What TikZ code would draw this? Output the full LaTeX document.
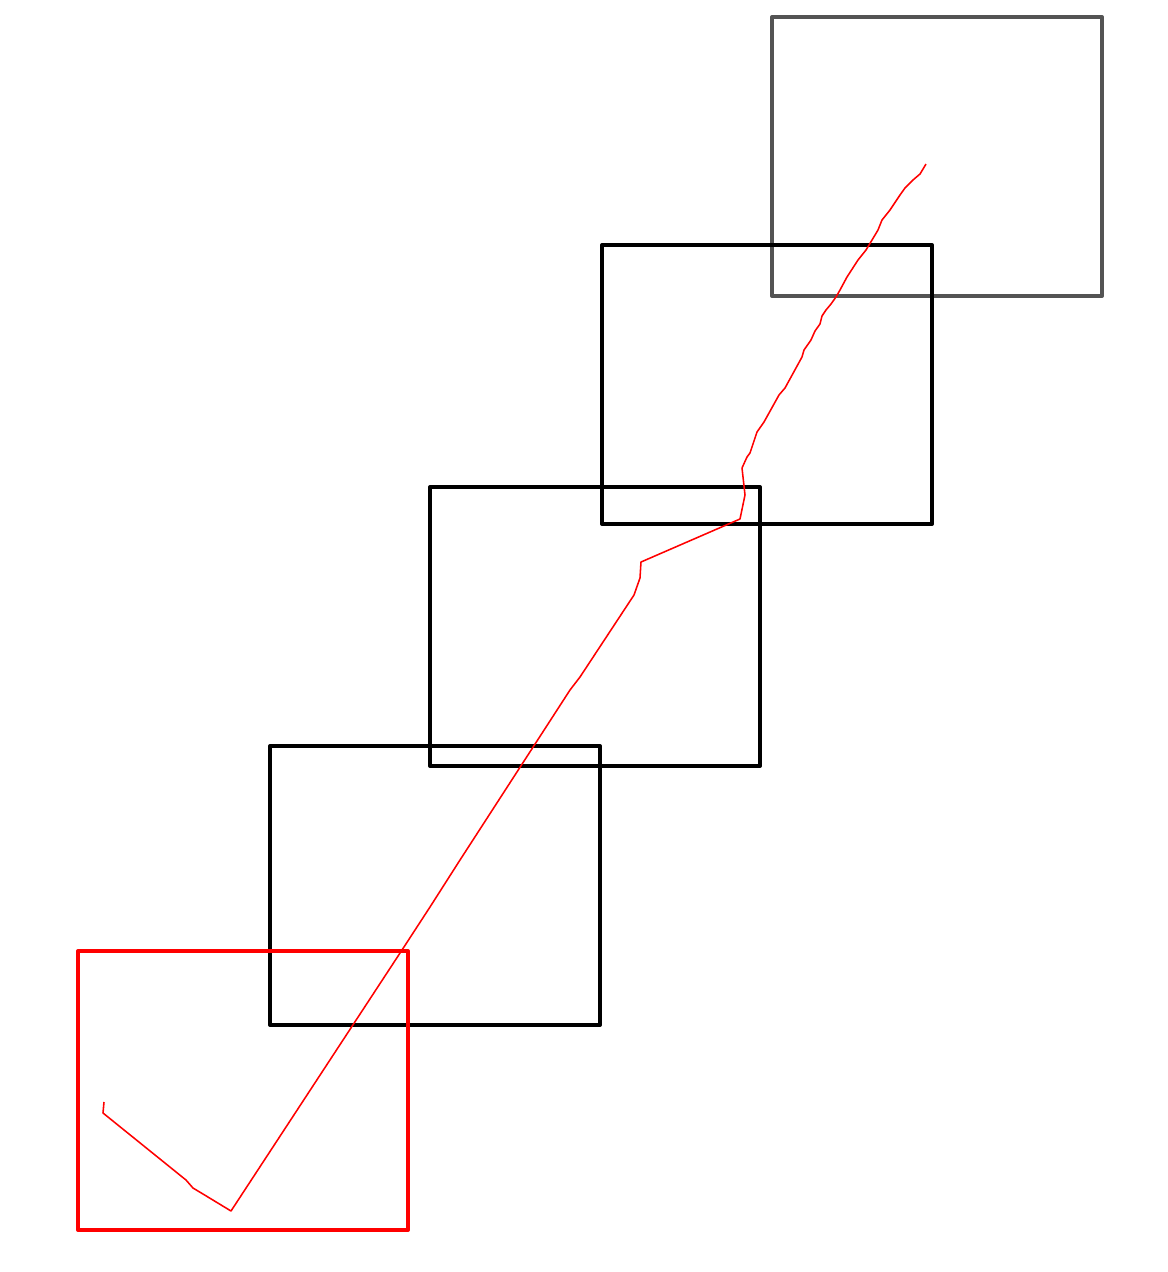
\documentclass[tikz,border=0pt]{standalone}
\usepackage{tikz}
\usetikzlibrary{calc}

\begin{document}
\begin{tikzpicture}[x=0.025cm,y=-0.025cm,
	box/.style={draw,line width=2.8pt,minimum width=8.25cm,minimum height=6.975cm,inner sep=0pt,line join=round}]
	\useasboundingbox (0,0) rectangle (1167,1272);
	\node(top) [box,draw=black!67] at (937,156.5) {};
	\node(b2) [box] at (767,384.5) {};
	\node(b3) [box] at (595,626.5) {};
	\node(b4) [box] at (435,885.5) {};
	\node(start) [box,draw=red] at (243,1090.5) {};
	
	\draw[red,line width=1.1pt,line join=round] (104,1102) -- (103,1113) -- (186,1180) -- (193,1188) -- (203,1194)
		-- (231,1211) -- (402,950) -- (430,907) -- (460,860) -- (570,690) -- (580,677)
		-- (634,595) -- (640,578) -- (641,562) -- (740,519) -- (745,495) -- (742,468)
		-- (747,457) -- (750,453) -- (757,432) -- (764,422) -- (779,395) -- (785,388)
		-- (802,357) -- (804,350) -- (811,340) -- (815,331) -- (820,324) -- (822,316)
		-- (826,310) -- (831,304) -- (836,297) -- (840,290) -- (847,277) -- (858,260)
		-- (866,250) -- (878,230) -- (882,220) -- (890,210) -- (900,195) -- (905,188)
		-- (913,180) -- (920,174) -- (926,164);
	
\end{tikzpicture}
\end{document}
